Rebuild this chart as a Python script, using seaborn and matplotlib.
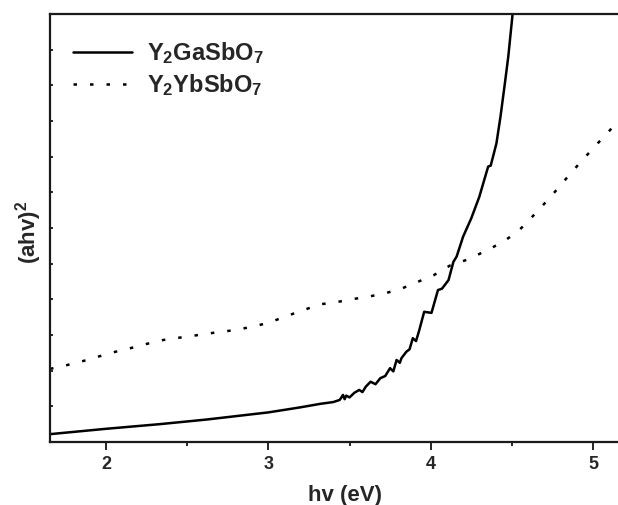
import numpy as np
import pandas as pd
import matplotlib
matplotlib.use("Agg")
import matplotlib.pyplot as plt
import seaborn as sns
from matplotlib.ticker import MultipleLocator

# ---- data ----
ga_x = [1.655, 2.0, 2.33, 2.62, 3.0, 3.195, 3.32, 3.40, 3.44, 3.46, 3.47, 3.48,
        3.50, 3.53, 3.56, 3.58, 3.60, 3.63, 3.66, 3.69, 3.72, 3.75, 3.77, 3.79,
        3.81, 3.82, 3.85, 3.87, 3.89, 3.91, 3.93, 3.96, 4.005, 4.045, 4.07,
        4.11, 4.14, 4.16, 4.20, 4.25, 4.30, 4.354, 4.37, 4.405, 4.43, 4.457,
        4.478, 4.504, 4.52]
ga_y = [0.22, 0.37, 0.50, 0.63, 0.83, 0.97, 1.07, 1.12, 1.18, 1.32, 1.20, 1.30,
        1.25, 1.38, 1.46, 1.40, 1.55, 1.69, 1.62, 1.79, 1.85, 2.07, 1.98, 2.30,
        2.22, 2.35, 2.53, 2.60, 2.91, 2.83, 3.14, 3.65, 3.62, 4.26, 4.30,
        4.54, 5.05, 5.20, 5.76, 6.27, 6.88, 7.72, 7.75, 8.37, 9.12, 10.05,
        10.80, 11.97, 12.50]

yb_x = [1.655, 1.717, 1.80, 1.90, 2.0, 2.10, 2.15, 2.25, 2.353, 2.46, 2.57,
        2.675, 2.78, 2.89, 3.0, 3.10, 3.21, 3.32, 3.43, 3.51, 3.61, 3.72, 3.82,
        3.91, 4.02, 4.12, 4.23, 4.34, 4.45, 4.55, 4.65, 4.74, 4.83, 4.92, 5.02,
        5.11, 5.16]
yb_y = [2.05, 2.11, 2.20, 2.32, 2.46, 2.58, 2.63, 2.75, 2.86, 2.93, 3.00,
        3.07, 3.13, 3.22, 3.34, 3.51, 3.69, 3.86, 3.93, 4.00, 4.07, 4.17, 4.30,
        4.47, 4.68, 4.95, 5.12, 5.36, 5.62, 5.96, 6.43, 6.88, 7.36, 7.83, 8.33,
        8.77, 9.00]

labels = [r"Y$_\mathbf{2}$GaSbO$_\mathbf{7}$", r"Y$_\mathbf{2}$YbSbO$_\mathbf{7}$"]
x_ticks = [2, 3, 4, 5]

df = pd.concat([
    pd.DataFrame({"x": ga_x, "y": ga_y, "s": labels[0]}),
    pd.DataFrame({"x": yb_x, "y": yb_y, "s": labels[1]}),
])

sns.set_style("ticks")
plt.rcParams["font.family"] = ["Liberation Sans", "DejaVu Sans"]
plt.rcParams["font.weight"] = "bold"
plt.rcParams["mathtext.fontset"] = "custom"
plt.rcParams["mathtext.rm"] = "Liberation Sans:bold"
plt.rcParams["mathtext.bf"] = "Liberation Sans:bold"
plt.rcParams["mathtext.it"] = "Liberation Sans:bold"
plt.rcParams["mathtext.default"] = "bf"

fig = plt.figure(figsize=(6.18, 5.05), dpi=100)
ax = fig.add_axes([50 / 618, 1 - 442 / 505, 1 - 50 / 618, (442 - 14) / 505])

sns.lineplot(data=df, x="x", y="y", hue="s", style="s",
             palette=["black", "black"],
             dashes={labels[0]: "", labels[1]: (1.4, 5.2)},
             sort=False, estimator=None, linewidth=1.8, ax=ax)

ax.set_xlim(1.655, 5.154)
ax.set_ylim(0, 12)

for sp in ["left", "bottom", "top"]:
    ax.spines[sp].set_linewidth(1.6)
    ax.spines[sp].set_color("#1a1a1a")
ax.spines["right"].set_visible(False)

ax.set_xticks(x_ticks)
ax.set_xticklabels([str(t) for t in x_ticks])
ax.xaxis.set_minor_locator(MultipleLocator(0.5))
ax.tick_params(axis="x", which="major", direction="out", length=5.8, width=1.4,
               labelsize=13, pad=4, top=False)
ax.tick_params(axis="x", which="minor", direction="out", length=3, width=1.4, top=False)
for lbl in ax.get_xticklabels():
    lbl.set_fontweight("bold")

ax.set_yticks(range(0, 13))
ax.set_yticklabels([])
ax.tick_params(axis="y", which="major", direction="in", length=2.5, width=1.4, right=False)

ax.set_xlabel("hv (eV)", fontsize=16, fontweight="bold")
ax.xaxis.set_label_coords((345 - 50) / 568, -0.1)
ax.set_ylabel(r"(ahv)$^\mathbf{2}$", fontsize=16, fontweight="bold")
ax.yaxis.set_label_coords(-0.01, 0.49)

leg = ax.legend(loc="upper left", bbox_to_anchor=((73 - 50) / 568, (442 - 40) / 428),
                frameon=False, fontsize=17, handlelength=2.5, handletextpad=0.65,
                labelspacing=0.25, borderpad=0, borderaxespad=0)
for t in leg.get_texts():
    t.set_fontweight("bold")

fig.savefig("out.png", dpi=100)
